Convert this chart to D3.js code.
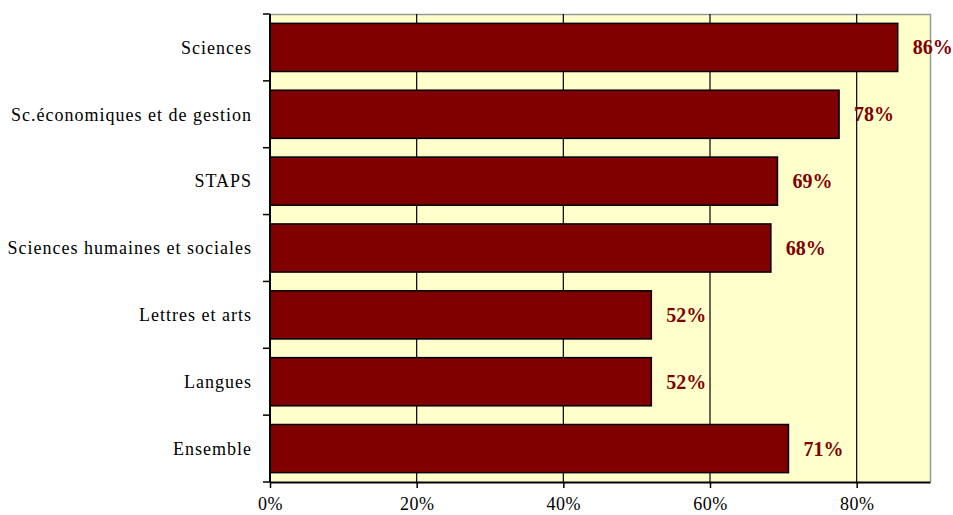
<!DOCTYPE html>
<html>
<head>
<meta charset="utf-8">
<script src="https://cdn.jsdelivr.net/npm/d3@7"></script>
<style>
  body { margin: 0; background: #fff; }
</style>
</head>
<body>
<div id="chart"></div>
<script>

// Data
var categories = ["Sciences", "Sc.économiques et de gestion", "STAPS",
                  "Sciences humaines et sociales", "Lettres et arts", "Langues", "Ensemble"];
var values = [0.856, 0.776, 0.692, 0.683, 0.52, 0.52, 0.707];
var tickValues = [0, 0.2, 0.4, 0.6, 0.8];

var serif = "'Liberation Serif', 'Times New Roman', 'DejaVu Serif', serif";

var width = 953,
    height = 515;

var margin = {top: 14, right: 23, bottom: 33, left: 270};
var innerW = width - margin.left - margin.right,
    innerH = height - margin.top - margin.bottom;

var formatPct = d3.format(".0%");

var svg = d3.select("#chart").append("svg")
    .attr("width", width)
    .attr("height", height);

var g = svg.append("g")
    .attr("transform", "translate(" + margin.left + "," + margin.top + ")");

var x = d3.scaleLinear()
    .domain([0, 0.9])
    .range([0, innerW]);

var y = d3.scaleBand()
    .domain(categories)
    .range([0, innerH])
    .paddingInner(0.28)
    .paddingOuter(0.14);

// plot background
g.append("rect")
    .attr("width", innerW)
    .attr("height", innerH)
    .attr("fill", "#ffffcc");

// border top/right in grey
g.append("path")
    .attr("d", "M0,0.5H" + (innerW + 0.5) + "V" + innerH)
    .attr("fill", "none")
    .attr("stroke", "#999")
    .attr("stroke-width", 1.5);

// vertical grid lines
g.selectAll(".grid")
    .data(tickValues.slice(1))
    .enter().append("line")
    .attr("class", "grid")
    .attr("x1", function(d) { return x(d); })
    .attr("x2", function(d) { return x(d); })
    .attr("y1", 0)
    .attr("y2", innerH)
    .attr("stroke", "#000")
    .attr("stroke-width", 1.2);

// bars
g.selectAll(".bar")
    .data(values)
    .enter().append("rect")
    .attr("class", "bar")
    .attr("x", 0)
    .attr("y", function(d, i) { return y(categories[i]); })
    .attr("width", function(d) { return x(d); })
    .attr("height", y.bandwidth())
    .attr("fill", "#800000")
    .attr("stroke", "#000")
    .attr("stroke-width", 1.5);

// value labels
g.selectAll(".val")
    .data(values)
    .enter().append("text")
    .attr("class", "val")
    .attr("x", function(d) { return x(d) + 15; })
    .attr("y", function(d, i) { return y(categories[i]) + y.bandwidth() / 2; })
    .attr("dy", "0.35em")
    .attr("fill", "#800000")
    .attr("font-weight", "bold")
    .attr("font-size", 20)
    .style("font-family", serif)
    .text(function(d) { return formatPct(d); });

// x axis
var xAxis = g.append("g")
    .attr("transform", "translate(0," + innerH + ")")
    .call(d3.axisBottom(x).tickValues(tickValues).tickFormat(formatPct)
        .tickSizeInner(6).tickSizeOuter(0).tickPadding(9));
xAxis.select(".domain").attr("stroke", "#000").attr("stroke-width", 2);
xAxis.selectAll(".tick line").attr("stroke-width", 1.5);
xAxis.selectAll("text").attr("font-size", 18).attr("fill", "#000")
    .style("font-family", serif)
    .style("letter-spacing", "0.5px");

// y axis: ticks at band boundaries
var boundaries = d3.range(categories.length + 1).map(function(i) { return i * innerH / categories.length; });

g.append("line")
    .attr("x1", 0).attr("x2", 0)
    .attr("y1", 0).attr("y2", innerH)
    .attr("stroke", "#000")
    .attr("stroke-width", 2);

g.selectAll(".ytick")
    .data(boundaries)
    .enter().append("line")
    .attr("class", "ytick")
    .attr("x1", -7).attr("x2", 0)
    .attr("y1", function(d) { return d; })
    .attr("y2", function(d) { return d; })
    .attr("stroke", "#000")
    .attr("stroke-width", 1.5);

g.selectAll(".cat")
    .data(categories)
    .enter().append("text")
    .attr("class", "cat")
    .attr("x", -18)
    .attr("y", function(d) { return y(d) + y.bandwidth() / 2; })
    .attr("dy", "0.35em")
    .attr("text-anchor", "end")
    .attr("font-size", 18)
    .attr("fill", "#000")
    .style("font-family", serif)
    .style("letter-spacing", "1px")
    .text(function(d) { return d; });

</script>
</body>
</html>
